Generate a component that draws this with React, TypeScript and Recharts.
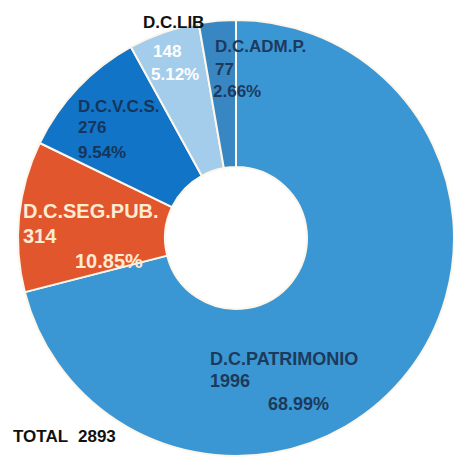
import { Cell, Pie, PieChart } from "recharts";

const NAMES = ["D.C.PATRIMONIO", "D.C.SEG.PUB.", "D.C.V.C.S.", "D.C.LIB", "D.C.ADM.P."];
const VALUES = [1996, 314, 276, 148, 77];
const TOTAL = 2893;

const COLORS = ["#3b97d3", "#e2562e", "#1174c6", "#a4cdeb", "#3887c2"];

// label text placement, offsets from the pie centre: [name, value, percent]
const LABEL_LAYOUT = [
  { lines: [[-26, 127], [-26, 149], [32, 172]], fill: ["#1c3a5c", "#1c3a5c", "#1c3a5c"], size: 18 },
  { lines: [[-213, -20], [-213, 5], [-161, 30]], fill: ["#fdebd3", "#fdebd3", "#fdebd3"], size: 20 },
  { lines: [[-158, -126], [-158, -105], [-158, -80]], fill: ["#16355c", "#16355c", "#16355c"], size: 17 },
  { lines: [[-93, -210], [-83, -181], [-85, -158]], fill: ["#111111", "#ffffff", "#ffffff"], size: 17 },
  { lines: [[-21, -186], [-21, -163], [-23, -141]], fill: ["#1d3a5e", "#1d3a5e", "#1d3a5e"], size: 17 },
];

const FONT = "'Liberation Sans', Arial, sans-serif";

const data = NAMES.map((name, i) => ({
  name,
  value: VALUES[i],
  pct: `${((VALUES[i] / TOTAL) * 100).toFixed(2)}%`,
}));

// eslint-disable-next-line @typescript-eslint/no-explicit-any
function renderLabel(props: any) {
  const { cx, cy, index } = props;
  const item = data[index];
  const layout = LABEL_LAYOUT[index];
  const texts = [item.name, String(item.value), item.pct];
  return (
    <g>
      {texts.map((t, k) => (
        <text
          key={k}
          x={cx + layout.lines[k][0]}
          y={cy + layout.lines[k][1]}
          fill={layout.fill[k]}
          fontSize={layout.size}
          fontWeight="bold"
          fontFamily={FONT}
          textAnchor="start"
        >
          {t}
        </text>
      ))}
    </g>
  );
}

export default function App() {
  return (
    <div style={{ position: "absolute", left: 0, top: 0, width: 454, height: 464, background: "#fff" }}>
      <PieChart width={454} height={464} margin={{ top: 0, right: 0, bottom: 0, left: 0 }}>
        <Pie
          data={data}
          dataKey="value"
          nameKey="name"
          cx={236}
          cy={238}
          innerRadius={71}
          outerRadius={218}
          startAngle={90}
          endAngle={-270}
          stroke="#fdf6ea"
          strokeWidth={2}
          label={renderLabel}
          labelLine={false}
          isAnimationActive={false}
        >
          {data.map((item, index) => (
            <Cell key={item.name} fill={COLORS[index]} />
          ))}
        </Pie>
      </PieChart>
      <svg width={454} height={464} style={{ position: "absolute", left: 0, top: 0, pointerEvents: "none" }}>
        <text x={13} y={442} fontSize={17} fontWeight="bold" fontFamily={FONT} fill="#111">
          TOTAL
        </text>
        <text x={78} y={442} fontSize={17} fontWeight="bold" fontFamily={FONT} fill="#111">
          {TOTAL}
        </text>
      </svg>
    </div>
  );
}
